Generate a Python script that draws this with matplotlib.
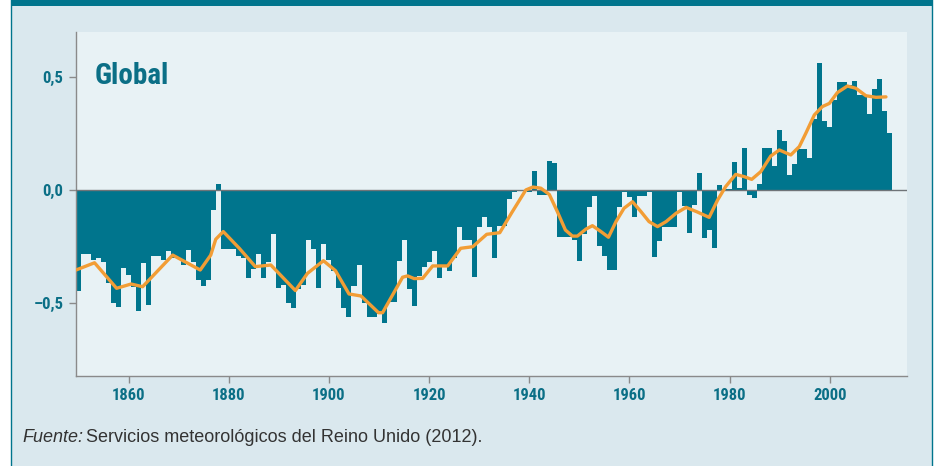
"""Global temperature anomaly bars with smoothed curve (HadCRUT style)."""

import numpy as np
import matplotlib

matplotlib.use("Agg")
import matplotlib.pyplot as plt
from matplotlib.patches import Rectangle
from matplotlib.lines import Line2D

plt.rcParams["font.family"] = ["Roboto Condensed", "DejaVu Sans"]

# annual anomalies, 1850-2012
years = np.arange(1850, 2013)
anomaly = [
    -0.445, -0.283, -0.283, -0.31, -0.30, -0.32, -0.41, -0.50, -0.516, -0.347,
    -0.376, -0.428, -0.534, -0.324, -0.509, -0.292, -0.292, -0.31, -0.27, -0.30,
    -0.30, -0.333, -0.265, -0.32, -0.40, -0.425, -0.40, -0.09, 0.027, -0.262,
    -0.262, -0.262, -0.29, -0.30, -0.39, -0.35, -0.283, -0.39, -0.32, -0.195,
    -0.435, -0.42, -0.50, -0.52, -0.44, -0.42, -0.22, -0.26, -0.435, -0.24,
    -0.31, -0.36, -0.435, -0.52, -0.563, -0.425, -0.33, -0.50, -0.563, -0.563,
    -0.55, -0.587, -0.495, -0.495, -0.315, -0.22, -0.44, -0.513, -0.38, -0.34,
    -0.32, -0.27, -0.39, -0.33, -0.36, -0.30, -0.165, -0.22, -0.22, -0.385,
    -0.165, -0.121, -0.162, -0.30, -0.16, -0.16, -0.041, -0.007, -0.005, -0.005,
    -0.01, 0.086, -0.022, -0.022, 0.13, 0.12, -0.206, -0.206, -0.21, -0.22,
    -0.313, -0.195, -0.077, -0.027, -0.25, -0.29, -0.354, -0.354, -0.074, -0.007,
    -0.032, -0.121, -0.027, -0.027, -0.007, -0.295, -0.224, -0.162, -0.162, -0.162,
    -0.007, -0.07, -0.19, -0.066, 0.077, -0.213, -0.177, -0.258, 0.022, 0.003,
    0.003, 0.122, 0.01, 0.184, -0.022, -0.037, 0.027, 0.184, 0.184, 0.108,
    0.265, 0.218, 0.066, 0.114, 0.18, 0.18, 0.143, 0.313, 0.563, 0.305,
    0.277, 0.398, 0.476, 0.476, 0.465, 0.48, 0.42, 0.42, 0.336, 0.447,
    0.491, 0.35, 0.254,
]

# smoothed curve
smooth_year = [
    1849.5, 1853.2, 1857.6, 1860.5, 1862.8, 1868.8, 1874.3, 1876.4, 1877.4, 1878.9,
    1882.1, 1885.3, 1888.4, 1893.3, 1895.7, 1898.9, 1901.3, 1904.0, 1906.4, 1909.9,
    1910.7, 1914.7, 1915.7, 1917.0, 1918.7, 1920.7, 1923.7, 1926.3, 1928.7, 1931.5,
    1934.1, 1936.5, 1939.3, 1940.7, 1942.3, 1944.0, 1945.6, 1947.2, 1948.6, 1949.6,
    1951.3, 1952.6, 1954.3, 1955.8, 1957.3, 1958.9, 1960.6, 1962.3, 1963.9, 1965.6,
    1967.3, 1969.3, 1971.3, 1973.4, 1975.9, 1977.6, 1979.2, 1981.2, 1982.9, 1984.4,
    1986.2, 1988.2, 1989.9, 1992.2, 1993.9, 1995.2, 1996.9, 1998.5, 1999.9, 2001.5,
    2003.5, 2005.2, 2007.2, 2009.2, 2011.2,
]
smooth_val = [
    -0.354, -0.322, -0.435, -0.416, -0.428, -0.288, -0.354, -0.288, -0.218, -0.184,
    -0.258, -0.339, -0.332, -0.445, -0.369, -0.313, -0.357, -0.460, -0.469, -0.543,
    -0.543, -0.386, -0.380, -0.392, -0.391, -0.336, -0.336, -0.258, -0.251, -0.196,
    -0.189, -0.100, 0.000, 0.013, 0.008, -0.020, -0.096, -0.177, -0.204, -0.204,
    -0.173, -0.158, -0.184, -0.209, -0.140, -0.081, -0.052, -0.096, -0.140, -0.162,
    -0.140, -0.103, -0.077, -0.096, -0.121, -0.044, 0.015, 0.069, 0.059, 0.047,
    0.081, 0.150, 0.177, 0.155, 0.192, 0.251, 0.332, 0.369, 0.383, 0.431,
    0.460, 0.450, 0.417, 0.410, 0.412,
]

xticks = [1860, 1880, 1900, 1920, 1940, 1960, 1980, 2000]
yticks = [-0.5, 0.0, 0.5]
ytick_labels = ["\u20130,5", "0,0", "0,5"]

TEAL = "#00758d"
TEXT_TEAL = "#0b6f86"
PANEL = "#dae8ee"
PLOT_BG = "#e8f2f5"
ORANGE = "#f29d35"
GREY = "#8a8a8a"
FOOT_FONT = ["Liberation Sans", "DejaVu Sans"]

W, H = 935, 466
fig = plt.figure(figsize=(W / 100, H / 100), dpi=100)
fig.patch.set_facecolor("white")

# panel, top band and side borders
fig.add_artist(Rectangle((11 / W, 0), 921 / W, 1, transform=fig.transFigure,
                         facecolor=PANEL, edgecolor="none", zorder=0))
fig.add_artist(Rectangle((11 / W, 1 - 6 / H), 921 / W, 6 / H, transform=fig.transFigure,
                         facecolor=TEAL, edgecolor="none", zorder=1))
for xb in (11 / W, 932 / W):
    fig.add_artist(Line2D([xb, xb], [0, 1], transform=fig.transFigure, color=TEAL, lw=1))

ax = fig.add_axes([76 / W, 1 - 376 / H, 831 / W, 344 / H])
ax.set_facecolor(PLOT_BG)

ax.bar(years, anomaly, width=1.0, color=TEAL, linewidth=0, zorder=2)
ax.axhline(0, color="#6f7478", lw=1, zorder=3)
ax.plot(smooth_year, smooth_val, color=ORANGE, lw=2.4, zorder=4,
        solid_joinstyle="round", solid_capstyle="round")

ax.set_xlim(1849.5, 2015.4)
ax.set_ylim(-0.823, 0.699)

for side in ("top", "right"):
    ax.spines[side].set_visible(False)
for side in ("left", "bottom"):
    ax.spines[side].set_color(GREY)
    ax.spines[side].set_linewidth(1)

ax.set_xticks(xticks)
ax.set_xticklabels([str(y) for y in xticks])
ax.set_yticks(yticks)
ax.set_yticklabels(ytick_labels)
ax.tick_params(axis="both", length=5, width=1, color=GREY, labelcolor=TEXT_TEAL,
               labelsize=12, pad=4)
for lab in ax.get_xticklabels() + ax.get_yticklabels():
    lab.set_fontweight("bold")

ax.text((95 - 76) / 831, (376 - 76) / 344, "Global", transform=ax.transAxes,
        fontsize=21, fontweight="bold", color=TEXT_TEAL, va="center", ha="left")

# source line: italic label, then regular text
renderer = fig.canvas.get_renderer()
t1 = fig.text(22 / W, 1 - 438 / H, "Fuente:", fontsize=13, style="italic",
              family=FOOT_FONT, color="#333333", va="center")
bb = t1.get_window_extent(renderer=renderer)
fig.text(bb.x1 / fig.bbox.width + 3 / W, 1 - 438 / H,
         "Servicios meteorológicos del Reino Unido (2012).", fontsize=13,
         family=FOOT_FONT, color="#333333", va="center")

fig.savefig("out.png", dpi=100)
